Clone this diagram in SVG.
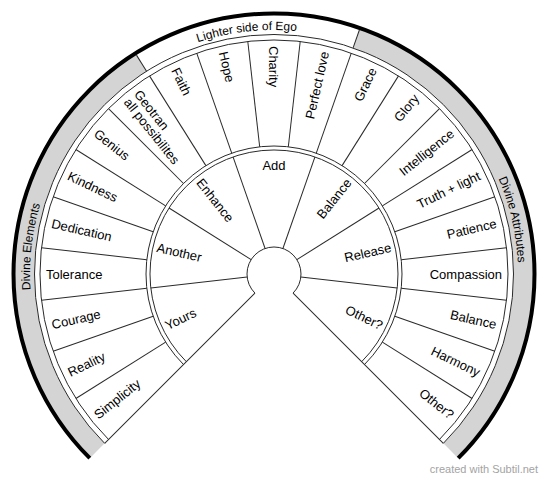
<svg xmlns="http://www.w3.org/2000/svg" width="550" height="482" viewBox="0 0 550 482">
<style>
.ln{stroke:#2a2a2a;stroke-width:1;fill:none}
.gray{stroke:#d4d4d4;stroke-width:21;fill:none}
.lbl{font-family:"Liberation Sans",Arial,sans-serif;font-size:13px;fill:#000}
.band{font-family:"Liberation Sans",Arial,sans-serif;font-size:12px;fill:#000}
.r{text-anchor:end}
</style>
<defs>
<path id="arc" d="M44.72,190.55 A244,244 0 0 1 503.28,190.55"/>
<line id="mid" x1="274" y1="146" x2="274" y2="40"/>
<line id="inn" x1="274" y1="247" x2="274" y2="150"/>
</defs>
<rect width="550" height="482" fill="#fff"/>

<g id="outer-band">
<path class="gray" d="M97.22,450.78 A250,250 0 0 1 140.99,62.32"/>
<path class="gray" d="M356.57,38.03 A250,250 0 0 1 450.78,450.78"/>
<path d="M89.80,458.20 A260.5,260.5 0 1 1 458.20,458.20" fill="none" stroke="#000" stroke-width="4"/>
<g class="ln">
<line x1="274" y1="34.5" x2="274" y2="15.5" transform="rotate(-32.142857 274 274)"/>
<line x1="274" y1="34.5" x2="274" y2="15.5" transform="rotate(19.285714 274 274)"/>
</g>
<text class="band" transform="rotate(-6.428571 274 274)"><textPath href="#arc" startOffset="50%" text-anchor="middle">Lighter side of Ego</textPath></text>
<text class="band" transform="rotate(-83.571429 274 274)"><textPath href="#arc" startOffset="50%" text-anchor="middle">Divine Elements</textPath></text>
<text class="band" transform="rotate(77.142857 274 274)"><textPath href="#arc" startOffset="50%" text-anchor="middle">Divine Attributes</textPath></text>
</g>

<g id="rings" class="ln">
<path d="M104.65,443.35 A239.5,239.5 0 1 1 443.35,443.35"/>
<path d="M108.54,439.46 A234,234 0 1 1 439.46,439.46"/>
<path d="M183.49,364.51 A128,128 0 1 1 364.51,364.51"/>
<path d="M186.32,361.68 A124,124 0 1 1 361.68,361.68"/>
<path d="M254.91,293.09 A27,27 0 1 1 293.09,293.09"/>
<line x1="274" y1="247" x2="274" y2="34.5" transform="rotate(-135 274 274)"/>
<line x1="274" y1="247" x2="274" y2="34.5" transform="rotate(135 274 274)"/>
</g>

<g id="connectors" class="ln">
<use href="#mid" transform="rotate(-122.142857 274 274)"/>
<use href="#mid" transform="rotate(-109.285714 274 274)"/>
<use href="#mid" transform="rotate(-96.428571 274 274)"/>
<use href="#mid" transform="rotate(-83.571429 274 274)"/>
<use href="#mid" transform="rotate(-70.714286 274 274)"/>
<use href="#mid" transform="rotate(-57.857143 274 274)"/>
<use href="#mid" transform="rotate(-45 274 274)"/>
<use href="#mid" transform="rotate(-32.142857 274 274)"/>
<use href="#mid" transform="rotate(-19.285714 274 274)"/>
<use href="#mid" transform="rotate(-6.428571 274 274)"/>
<use href="#mid" transform="rotate(6.428571 274 274)"/>
<use href="#mid" transform="rotate(19.285714 274 274)"/>
<use href="#mid" transform="rotate(32.142857 274 274)"/>
<use href="#mid" transform="rotate(45 274 274)"/>
<use href="#mid" transform="rotate(57.857143 274 274)"/>
<use href="#mid" transform="rotate(70.714286 274 274)"/>
<use href="#mid" transform="rotate(83.571429 274 274)"/>
<use href="#mid" transform="rotate(96.428571 274 274)"/>
<use href="#mid" transform="rotate(109.285714 274 274)"/>
<use href="#mid" transform="rotate(122.142857 274 274)"/>
<use href="#inn" transform="rotate(-96.428571 274 274)"/>
<use href="#inn" transform="rotate(-57.857143 274 274)"/>
<use href="#inn" transform="rotate(-19.285714 274 274)"/>
<use href="#inn" transform="rotate(19.285714 274 274)"/>
<use href="#inn" transform="rotate(57.857143 274 274)"/>
<use href="#inn" transform="rotate(96.428571 274 274)"/>
</g>

<g id="middle-labels">
<g id="n-simplicity"><text class="lbl" transform="rotate(-38.571429 274 274)" x="46" y="274" dy="0.35em">Simplicity</text></g>
<g id="n-reality"><text class="lbl" transform="rotate(-25.714286 274 274)" x="46" y="274" dy="0.35em">Reality</text></g>
<g id="n-courage"><text class="lbl" transform="rotate(-12.857143 274 274)" x="46" y="274" dy="0.35em">Courage</text></g>
<g id="n-tolerance"><text class="lbl" transform="rotate(0 274 274)" x="46" y="274" dy="0.35em">Tolerance</text></g>
<g id="n-dedication"><text class="lbl" transform="rotate(12.857143 274 274)" x="46" y="274" dy="0.35em">Dedication</text></g>
<g id="n-kindness"><text class="lbl" transform="rotate(25.714286 274 274)" x="46" y="274" dy="0.35em">Kindness</text></g>
<g id="n-genius"><text class="lbl" transform="rotate(38.571429 274 274)" x="46" y="274" dy="0.35em">Genius</text></g>
<g id="n-geotran"><text class="lbl" transform="rotate(51.428571 274 274)" x="46" y="274"><tspan x="46" dy="-2">Geotran</tspan><tspan x="46" dy="13">all possibilites</tspan></text></g>
<g id="n-faith"><text class="lbl" transform="rotate(64.285714 274 274)" x="46" y="274" dy="0.35em">Faith</text></g>
<g id="n-hope"><text class="lbl" transform="rotate(77.142857 274 274)" x="46" y="274" dy="0.35em">Hope</text></g>
<g id="n-charity"><text class="lbl" transform="rotate(90 274 274)" x="46" y="274" dy="0.35em">Charity</text></g>
<g id="n-perfect-love"><text class="lbl r" transform="rotate(-77.142857 274 274)" x="502" y="274" dy="0.35em">Perfect love</text></g>
<g id="n-grace"><text class="lbl r" transform="rotate(-64.285714 274 274)" x="502" y="274" dy="0.35em">Grace</text></g>
<g id="n-glory"><text class="lbl r" transform="rotate(-51.428571 274 274)" x="502" y="274" dy="0.35em">Glory</text></g>
<g id="n-intelligence"><text class="lbl r" transform="rotate(-38.571429 274 274)" x="502" y="274" dy="0.35em">Intelligence</text></g>
<g id="n-truth"><text class="lbl r" transform="rotate(-25.714286 274 274)" x="502" y="274" dy="0.35em">Truth + light</text></g>
<g id="n-patience"><text class="lbl r" transform="rotate(-12.857143 274 274)" x="502" y="274" dy="0.35em">Patience</text></g>
<g id="n-compassion"><text class="lbl r" transform="rotate(0 274 274)" x="502" y="274" dy="0.35em">Compassion</text></g>
<g id="n-balance-outer"><text class="lbl r" transform="rotate(12.857143 274 274)" x="502" y="274" dy="0.35em">Balance</text></g>
<g id="n-harmony"><text class="lbl r" transform="rotate(25.714286 274 274)" x="502" y="274" dy="0.35em">Harmony</text></g>
<g id="n-other-outer"><text class="lbl r" transform="rotate(38.571429 274 274)" x="502" y="274" dy="0.35em">Other?</text></g>
</g>

<g id="inner-labels">
<g id="n-yours"><text class="lbl" transform="rotate(-25.714286 274 274)" x="154" y="274" dy="0.35em">Yours</text></g>
<g id="n-another"><text class="lbl" transform="rotate(12.857143 274 274)" x="154" y="274" dy="0.35em">Another</text></g>
<g id="n-enhance"><text class="lbl" transform="rotate(51.428571 274 274)" x="154" y="274" dy="0.35em">Enhance</text></g>
<g id="n-add"><text class="lbl" x="274" y="170" text-anchor="middle">Add</text></g>
<g id="n-balance-inner"><text class="lbl r" transform="rotate(-51.428571 274 274)" x="394" y="274" dy="0.35em">Balance</text></g>
<g id="n-release"><text class="lbl r" transform="rotate(-12.857143 274 274)" x="394" y="274" dy="0.35em">Release</text></g>
<g id="n-other-inner"><text class="lbl r" transform="rotate(25.714286 274 274)" x="394" y="274" dy="0.35em">Other?</text></g>
</g>

<text x="538" y="473" text-anchor="end" font-family="'Liberation Sans',Arial,sans-serif" font-size="11" fill="#a3a3a3">created with Subtil.net</text>
</svg>
